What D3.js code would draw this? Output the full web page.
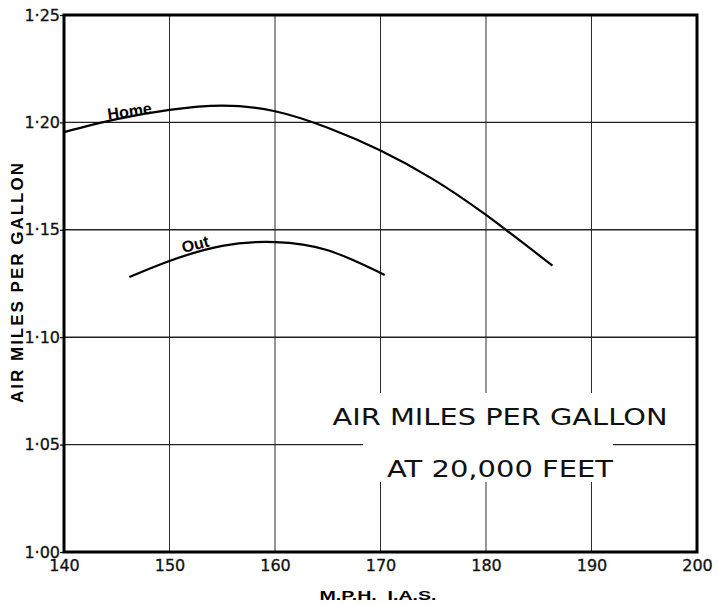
<!DOCTYPE html>
<html><head><meta charset="utf-8">
<script src="https://cdn.jsdelivr.net/npm/d3@7"></script>
<style>body{margin:0;background:#fff}svg{display:block}</style>
</head><body>
<script>
const xTicks = [140,150,160,170,180,190,200];
const yTicks = [1.00,1.05,1.10,1.15,1.20,1.25];
const yTickLabels = ["1·00","1·05","1·10","1·15","1·20","1·25"];
const homeX = [140,145,150,155,160,165,170,175,180,186.3];
const homeY = [1.1955,1.2015,1.2058,1.2078,1.2052,1.1975,1.1869,1.1735,1.1569,1.1333];
const outX = [146.2,150,155,160,165,170.4];
const outY = [1.128,1.1355,1.1425,1.1443,1.1405,1.129];
const titleLines = ["AIR MILES PER GALLON","AT 20,000 FEET"];
const xLabel = "M.P.H.  I.A.S.";
const yLabel = "AIR MILES PER GALLON";

const W=718,H=605;
const m={l:64,r:21,t:15,b:53};
const svg=d3.select("body").append("svg").attr("width",W).attr("height",H);
const x=d3.scaleLinear().domain([140,200]).range([m.l,W-m.r]);
const y=d3.scaleLinear().domain([1.00,1.25]).range([H-m.b,m.t]);
const font="'Liberation Sans', Arial, sans-serif";
const tickFont="'DejaVu Sans', sans-serif";

// grid
const g=svg.append("g");
g.selectAll("line.v").data(xTicks.slice(1,-1)).join("line")
 .attr("x1",d=>x(d)).attr("x2",d=>x(d)).attr("y1",y(1.25)).attr("y2",y(1.0))
 .attr("stroke","#2a2a3a").attr("stroke-width",1);
g.selectAll("line.h").data(yTicks.slice(1,-1)).join("line")
 .attr("x1",x(140)).attr("x2",x(200)).attr("y1",d=>y(d)).attr("y2",d=>y(d))
 .attr("stroke","#222").attr("stroke-width",1.4);

// title box with white background
const tb=svg.append("g");
const tcx=500;
const tlines=[{t:titleLines[0],yb:425,len:335,bx:325,bw:350,by:393,bh:43},
              {t:titleLines[1],yb:477,len:226,bx:363,bw:250,by:436,bh:46}];
tlines.forEach(l=>{
  tb.append("rect").attr("x",l.bx).attr("width",l.bw).attr("y",l.by).attr("height",l.bh).attr("fill","#fff");
});
tlines.forEach(l=>{
  tb.append("text").attr("x",tcx).attr("y",l.yb).attr("text-anchor","middle")
    .attr("font-family","'DejaVu Sans', sans-serif").attr("font-size",23)
    .attr("fill","#111")
    .attr("textLength",l.len).attr("lengthAdjust","spacingAndGlyphs").text(l.t);
});

// frame
svg.append("rect").attr("x",x(140)).attr("y",y(1.25)).attr("width",x(200)-x(140)).attr("height",y(1.0)-y(1.25))
 .attr("fill","none").attr("stroke","#000").attr("stroke-width",3);

// axes
const xa=svg.append("g").attr("transform",`translate(0,${y(1.0)})`)
 .call(d3.axisBottom(x).tickValues(xTicks).tickSize(0).tickPadding(8).tickFormat(d3.format("d")));
xa.select(".domain").remove();
xa.selectAll("text").style("font-family",tickFont).style("font-size","16px").attr("fill","#111")
 .attr("stroke","#111").attr("stroke-width",0.3);
const ya=svg.append("g").attr("transform",`translate(${x(140)},0)`)
 .call(d3.axisLeft(y).tickValues(yTicks).tickSize(4).tickPadding(0).tickFormat((d,i)=>yTickLabels[i]));
ya.select(".domain").remove();
ya.selectAll("line").attr("stroke","#000").attr("stroke-width",1.2);
ya.selectAll("text").style("font-family",tickFont).style("font-size","16px").attr("fill","#111")
 .attr("stroke","#111").attr("stroke-width",0.3);

// curves
const line=d3.line().x(d=>x(d[0])).y(d=>y(d[1])).curve(d3.curveNatural);
svg.append("path").datum(d3.zip(homeX,homeY)).attr("d",line).attr("fill","none").attr("stroke","#000").attr("stroke-width",2.2);
svg.append("path").datum(d3.zip(outX,outY)).attr("d",line).attr("fill","none").attr("stroke","#000").attr("stroke-width",2.2);

// curve labels
svg.append("text").attr("transform",`translate(${x(144.2)},${y(1.2012)}) rotate(-8)`)
 .attr("font-family",font).attr("font-weight","bold").attr("font-size",16).text("Home");
svg.append("text").attr("transform",`translate(${x(151.3)},${y(1.1392)}) rotate(-14)`)
 .attr("font-family",font).attr("font-weight","bold").attr("font-size",16).text("Out");

// axis titles
svg.append("text").attr("x",378).attr("y",600).attr("text-anchor","middle")
 .attr("font-family",font).attr("font-weight","bold").attr("font-size",12.5)
 .attr("textLength",117).attr("lengthAdjust","spacingAndGlyphs").attr("xml:space","preserve").text(xLabel);
svg.append("text").attr("transform","translate(23,283) rotate(-90)").attr("text-anchor","middle")
 .attr("font-family",font).attr("font-weight","bold").attr("font-size",17)
 .attr("textLength",240).attr("lengthAdjust","spacing").text(yLabel);
</script>
</body></html>
